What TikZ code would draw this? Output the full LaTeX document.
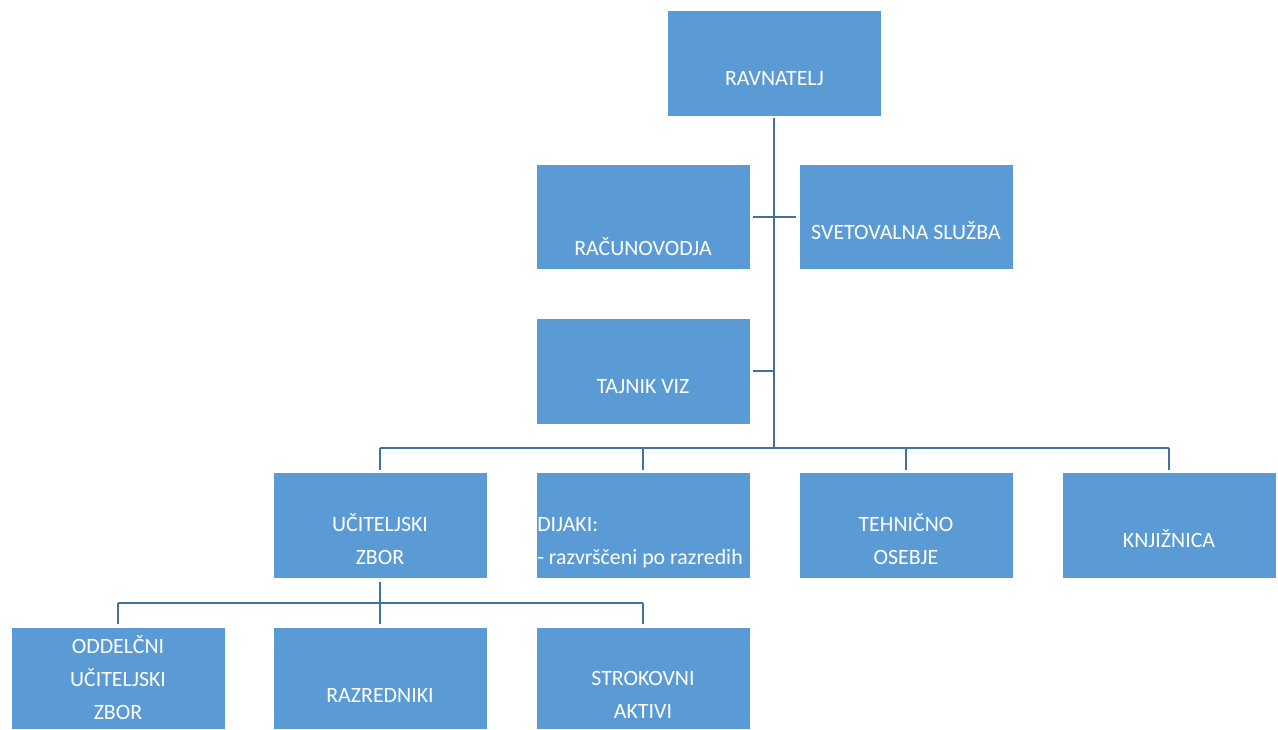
\documentclass[tikz,border=0pt]{standalone}
\usepackage{fontspec}
\setmainfont{Carlito}
\definecolor{boxfill}{HTML}{5B9BD5}
\definecolor{linecol}{HTML}{41719C}
\begin{document}
\begin{tikzpicture}[x=0.75pt,y=-0.75pt,
  box/.style={fill=boxfill,draw=white,line width=0.6pt,inner sep=0pt,minimum width=160.5pt,minimum height=79pt},
  lbl/.style={text=white,font=\fontsize{16.4}{24.7}\selectfont,align=center,anchor=base,inner sep=0pt},
  conn/.style={draw=linecol,line width=2.2pt}]
\useasboundingbox (0,0) rectangle (1278,729);
% boxes
\node[box] (rav) at (774.5,63.5) {};
\node[box] (rac) at (643,217) {};
\node[box] (svet) at (906,217) {};
\node[box] (taj) at (643,371.5) {};
\node[box] (ucz) at (380,525.5) {};
\node[box] (dij) at (643,525.5) {};
\node[box] (teh) at (906,525.5) {};
\node[box] (knj) at (1169,525.5) {};
\node[box,minimum height=76.5pt] (odd) at (118,678) {};
\node[box,minimum height=76.5pt] (raz) at (380,678) {};
\node[box,minimum height=76.5pt] (str) at (643,678) {};
% labels (base anchor = baseline of the last line)
\node[lbl] (trav) at (774.5,85) {RAVNATELJ};
\node[lbl] (trac) at (643,255) {RAČUNOVODJA};
\node[lbl] (tsvet) at (906,239) {SVETOVALNA SLUŽBA};
\node[lbl] (ttaj) at (643,393) {TAJNIK VIZ};
\node[lbl] (tucz) at (380,564) {UČITELJSKI\\ZBOR};
\node[lbl,align=left,anchor=base west] (tdij) at (537,564) {DIJAKI:\\- razvrščeni po razredih};
\node[lbl] (tteh) at (906,564) {TEHNIČNO\\OSEBJE};
\node[lbl] (tknj) at (1169,547) {KNJIŽNICA};
\node[lbl] (todd) at (118,719) {ODDELČNI\\UČITELJSKI\\ZBOR};
\node[lbl] (traz) at (380,702) {RAZREDNIKI};
\node[lbl] (tstr) at (643,718) {STROKOVNI\\AKTIVI};
% connector coordinates
\coordinate (t0) at (774,118);
\coordinate (t1) at (774,217);
\coordinate (t2) at (774,371);
\coordinate (t3) at (774,448);
\coordinate (r1) at (753,217);
\coordinate (s1) at (796,217);
\coordinate (j1) at (753,371);
\coordinate (b1) at (380,448);
\coordinate (b2) at (643,448);
\coordinate (b3) at (906,448);
\coordinate (b4) at (1169,448);
\coordinate (d1) at (380,470);
\coordinate (d2) at (643,470);
\coordinate (d3) at (906,470);
\coordinate (d4) at (1169,470);
\coordinate (u0) at (380,582);
\coordinate (u1) at (380,603);
\coordinate (c1) at (118,603);
\coordinate (c3) at (643,603);
\coordinate (e1) at (118,624);
\coordinate (e2) at (380,624);
\coordinate (e3) at (643,624);
% connectors
\draw[conn] (t0) -- (t3);
\draw[conn] (r1) -- (s1);
\draw[conn] (j1) -- (t2);
\draw[conn] (b1) -- (b4);
\draw[conn] (b1) -- (d1);
\draw[conn] (b2) -- (d2);
\draw[conn] (b3) -- (d3);
\draw[conn] (b4) -- (d4);
\draw[conn] (u0) -- (e2);
\draw[conn] (c1) -- (c3);
\draw[conn] (c1) -- (e1);
\draw[conn] (c3) -- (e3);
\end{tikzpicture}
\end{document}
